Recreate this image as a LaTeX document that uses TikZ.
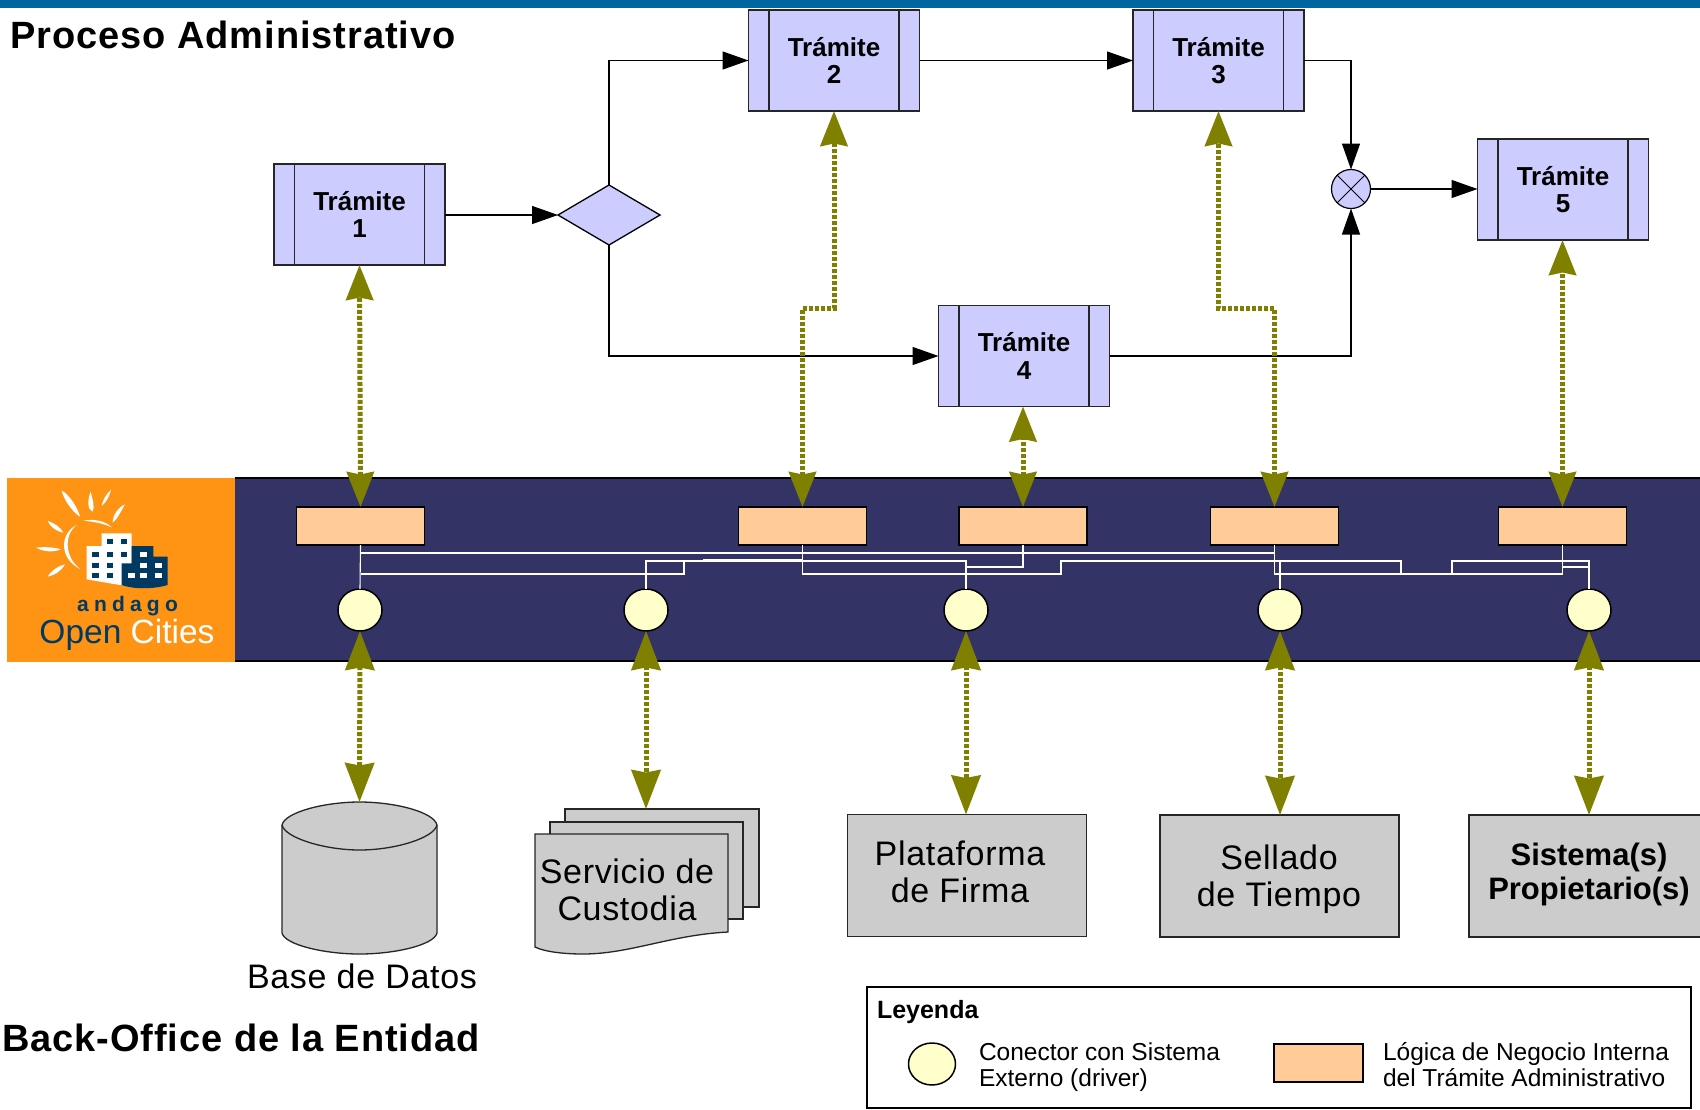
\documentclass[tikz,border=0pt]{standalone}
\usepackage{fontspec}
\setmainfont{Liberation Sans}
\usetikzlibrary{arrows.meta,shapes.geometric}
\definecolor{lav}{HTML}{CCCCFF}
\definecolor{navy}{HTML}{333366}
\definecolor{peach}{HTML}{FFCC99}
\definecolor{pale}{HTML}{FFFFCC}
\definecolor{oliv}{HTML}{808000}
\definecolor{gris}{HTML}{CCCCCC}
\definecolor{naranja}{HTML}{FF9414}
\definecolor{barra}{HTML}{0066A0}
\definecolor{logoblue}{HTML}{003A63}
\newcommand{\pxfont}[2]{\fontsize{#1}{#2}\selectfont}
\tikzset{
  every node/.style={inner sep=0pt,outer sep=0pt},
  tram/.style={draw=black!85,fill=lav,line width=1.4pt,minimum width=171pt,minimum height=101pt,align=center,font=\bfseries\pxfont{26}{27.5}},
  logic/.style={draw=black,fill=peach,line width=1.5pt,minimum width=128pt,minimum height=38pt},
  conn/.style={draw=black,fill=pale,ellipse,line width=1.5pt,minimum width=44pt,minimum height=42pt},
  sysbox/.style={draw=black!85,fill=gris,line width=1.3pt,minimum width=239pt,minimum height=122pt},
  flow/.style={draw=black,line width=1.3pt,-{Triangle[length=26pt,width=18pt]}},
  link/.style={draw=oliv,line width=5pt,dash pattern=on 4pt off 2pt,{Stealth[length=35pt,width=27pt,inset=2.5pt,oliv]}-{Stealth[length=35pt,width=27pt,inset=2.5pt,oliv]}},
  linklow/.style={draw=oliv,line width=5pt,dash pattern=on 4pt off 2pt,{Stealth[length=39pt,width=29pt,inset=2.5pt,oliv]}-{Stealth[length=39pt,width=29pt,inset=2.5pt,oliv]}},
  wire/.style={draw=white,line width=1.1pt},
  sysline/.style={font=\addfontfeature{LetterSpace=2}\pxfont{34}{37},align=center},
  titletext/.style={font=\bfseries\addfontfeature{LetterSpace=2.4}\pxfont{38}{38}},
  ray/.style={fill=white,draw=none},
  win/.style={fill=logoblue,draw=none},
  winw/.style={fill=white,draw=none},
}
\begin{document}
\begin{tikzpicture}[x=1pt,y=-1pt]
\useasboundingbox (0,0) rectangle (1700,1109);
\fill[white] (0,0) rectangle (1700,1109);
\fill[barra] (0,0) rectangle (1700,8);
\node[titletext] (title) at (233,35) {Proceso Administrativo};
\node[titletext] (backoffice) at (241,1038) {Back-Office de la Entidad};
% band
\fill[navy] (235,478) rectangle (1700,661);
\draw[black,line width=1.2pt] (235,478) -- (1700,478) (235,661) -- (1700,661);
\fill[naranja] (7,478) rectangle (235,662);
% logo
\begin{scope}[shift={(0,470)},x=0.3333pt,y=-0.3333pt]
\fill[ray] (185,62) .. controls (205,70) and (235,115) .. (240,140) .. controls (215,125) and (190,85) .. (185,62) -- cycle;
\fill[ray] (272,65) .. controls (278,90) and (285,110) .. (278,125) .. controls (262,120) and (262,90) .. (272,65) -- cycle;
\fill[ray] (333,60) .. controls (328,80) and (318,98) .. (305,108) .. controls (308,90) and (320,70) .. (333,60) -- cycle;
\fill[ray] (375,103) .. controls (362,125) and (352,148) .. (338,158) .. controls (338,135) and (355,112) .. (375,103) -- cycle;
\fill[ray] (143,153) .. controls (165,160) and (182,172) .. (190,188) .. controls (170,185) and (150,170) .. (143,153) -- cycle;
\fill[ray] (108,233) .. controls (135,230) and (165,232) .. (182,238) .. controls (160,248) and (130,245) .. (108,233) -- cycle;
\fill[ray] (195,283) .. controls (182,305) and (165,315) .. (143,320) .. controls (155,300) and (175,288) .. (195,283) -- cycle;
\fill[ray] (250,152) .. controls (285,145) and (320,155) .. (335,172) .. controls (310,160) and (280,155) .. (250,152) -- cycle;
\fill[ray] (230,165) .. controls (180,190) and (175,265) .. (242,298) .. controls (195,265) and (190,195) .. (230,165) -- cycle;
\fill[white] (260,228) -- (305,228) -- (305,190) -- (395,190) -- (395,345) -- (360,345) -- (260,328) -- cycle;
\fill[logoblue] (365,280) -- (395,280) -- (395,228) -- (460,228) -- (460,260) -- (503,260) -- (503,345) .. controls (460,358) and (400,358) .. (365,345) -- cycle;
\foreach \a/\b in {320/208,362/208,277/247,320/247,362/247,277/280,320/280,277/310,320/310}
  \fill[win] (\a,\b) rectangle +(20,15);
\foreach \a/\b in {420/245,420/278,465/278,385/310,420/310,465/310}
  \fill[winw] (\a,\b) rectangle +(20,15);
\end{scope}
\node[font=\bfseries\pxfont{21}{21},text=logoblue] (andago) at (127.5,606) {a\hspace{5.2pt}n\hspace{5.2pt}d\hspace{5.2pt}a\hspace{5.2pt}g\hspace{5.2pt}o};
\node[font=\pxfont{33.5}{33.5}] (opencities) at (127,635) {\textcolor{logoblue}{Open} \textcolor{white}{Cities}};
% tramites
\node[tram] (T1) at (359.5,214.5) {Trámite\\1};
\node[tram] (T2) at (834,60.5) {Trámite\\2};
\node[tram] (T3) at (1218.5,60.5) {Trámite\\3};
\node[tram] (T4) at (1024,356) {Trámite\\4};
\node[tram] (T5) at (1563,189.5) {Trámite\\5};
\foreach \n in {T1,T2,T3,T4,T5}{
  \draw[black!85,line width=1.4pt] ([xshift=20.5pt]\n.north west) -- ([xshift=20.5pt]\n.south west);
  \draw[black!85,line width=1.4pt] ([xshift=-20.5pt]\n.north east) -- ([xshift=-20.5pt]\n.south east);
}
\node[diamond,draw=black,fill=lav,line width=1.3pt,aspect=1.7,minimum width=102pt,minimum height=60pt] (G) at (609,215) {};
\node[circle,draw=black,fill=lav,line width=1.2pt,minimum size=39pt] (X) at (1351,189) {};
\draw[black,line width=1pt] (X.45) -- (X.225) (X.135) -- (X.315);
% flow
\draw[flow] (T1.east |- G.west) -- (G.west);
\draw[flow] (G.north) |- (T2.west);
\draw[flow] (T2.east) -- (T3.west);
\draw[flow] (T3.east) -| (X.north);
\draw[flow] (X.east) -- (T5.west |- X.east);
\draw[flow] (G.south) |- (T4.west);
\draw[flow] (T4.east) -| (X.south);
% logic rects and connectors
\node[logic] (R1) at (360.5,526) {};
\node[logic] (R2) at (802.5,526) {};
\node[logic] (R3) at (1023,526) {};
\node[logic] (R4) at (1274.5,526) {};
\node[logic] (R5) at (1562.5,526) {};
\node[conn] (C1) at (360,610) {};
\node[conn] (C2) at (646,610) {};
\node[conn] (C3) at (966,610) {};
\node[conn] (C4) at (1280,610) {};
\node[conn] (C5) at (1589,610) {};
% wires
\draw[wire] (R1.south) -- (C1.north);
\draw[wire] (R1.south |- 0,553) -- (R4.south |- 0,553);
\draw[wire] (R1.south |- 0,574) -- (684,574) -- (684,561) -- (C2.north |- 0,561) -- (C2.north);
\draw[wire] (C2.north |- 0,561) -- (C3.north |- 0,561) -- (C3.north);
\draw[wire,line width=2pt] (703,559.5) -- (R2.south |- 0,559.5);
\draw[wire] (R2.south) -- (R2.south |- 0,574) -- (1061,574) -- (1061,561) -- (1401,561) -- (1401,574) -- (1452,574) -- (1452,561) -- (C5.north |- 0,561) -- (C5.north);
\draw[wire] (R3.south) -- (R3.south |- 0,567) -- (C3.north |- 0,567);
\draw[wire] (R4.south) -- (R4.south |- 0,574) -- (R5.south |- 0,574) -- (R5.south);
\draw[wire] (R5.south |- 0,567) -- (C5.north |- 0,567);
\draw[wire] (C4.north |- 0,561) -- (C4.north);
% back office shapes
\coordinate (DB) at (359.5,802);
\filldraw[draw=black!85,fill=gris,line width=1.3pt] (282,825) .. controls (285,812) and (325,802) .. (DB) .. controls (395,802) and (434,812) .. (437,825) -- (437,933) .. controls (434,945) and (395,954) .. (359.5,954) .. controls (325,954) and (285,945) .. (282,933) -- cycle;
\draw[black!85,line width=1.3pt] (282,825) .. controls (285,838) and (325,850) .. (359.5,850) .. controls (395,850) and (434,838) .. (437,825);
\node[sysline] (dbl) at (362,976) {Base de Datos};
\node[draw=black!85,fill=gris,line width=1.3pt,minimum width=194pt,minimum height=98pt] (D3) at (662,858) {};
\node[draw=black!85,fill=gris,line width=1.3pt,minimum width=193pt,minimum height=97pt] (D2) at (646.5,870.5) {};
\filldraw[draw=black!85,fill=gris,line width=1.3pt] (535,834) -- (728,834) -- (728,932) .. controls (670,935) and (630,954) .. (583,954) .. controls (565,954) and (545,952) .. (535,947) -- cycle;
\node[sysline] (custodia) at (627,890) {Servicio de\\Custodia};
\node[sysbox] (P) at (967,875.5) {};
\node[sysline] (Pt) at (960,871.5) {Plataforma\\de Firma};
\node[sysbox] (S) at (1279.5,876) {};
\node[sysline] (St) at (1279,879) {Sellado\\de Tiempo};
\node[sysbox,minimum width=240pt] (Q) at (1589,876) {};
\node[font=\bfseries\pxfont{31}{34},align=center] (Qt) at (1589,874.5) {Sistema(s)\\Propietario(s)};
% links
\draw[link] (R1.north) -- (T1.south);
\draw[link] (R2.north) |- (T2.south |- 0,308) -- (T2.south);
\draw[link] (R3.north) -- (T4.south -| R3.north);
\draw[link] (R4.north) |- (T3.south |- 0,308) -- (T3.south);
\draw[link] (R5.north) -- (T5.south -| R5.north);
\draw[linklow] (C1.south) -- (DB);
\draw[linklow] (C2.south) -- (D3.north -| C2.south);
\draw[linklow] (C3.south) -- (P.north -| C3.south);
\draw[linklow] (C4.south) -- (S.north -| C4.south);
\draw[linklow] (C5.south) -- (Q.north -| C5.south);
% legend
\node[draw=black,fill=white,line width=1.2pt,minimum width=824pt,minimum height=121pt] (L) at (1279,1047.5) {};
\node[anchor=west,font=\bfseries\pxfont{25}{25}] (Lt) at (877,1012) {Leyenda};
\node[conn,minimum width=47pt,minimum height=42pt] (Lc) at (932,1064) {};
\node[anchor=west,align=left,font=\pxfont{24.5}{26}] (Lct) at (979,1067) {Conector con Sistema\\Externo (driver)};
\node[draw=black,fill=peach,line width=1.2pt,minimum width=89pt,minimum height=38pt] (Lr) at (1318.5,1063) {};
\node[anchor=west,align=left,font=\pxfont{24.5}{26}] (Lrt) at (1383,1065) {Lógica de Negocio Interna\\del Trámite Administrativo};
\end{tikzpicture}
\end{document}
